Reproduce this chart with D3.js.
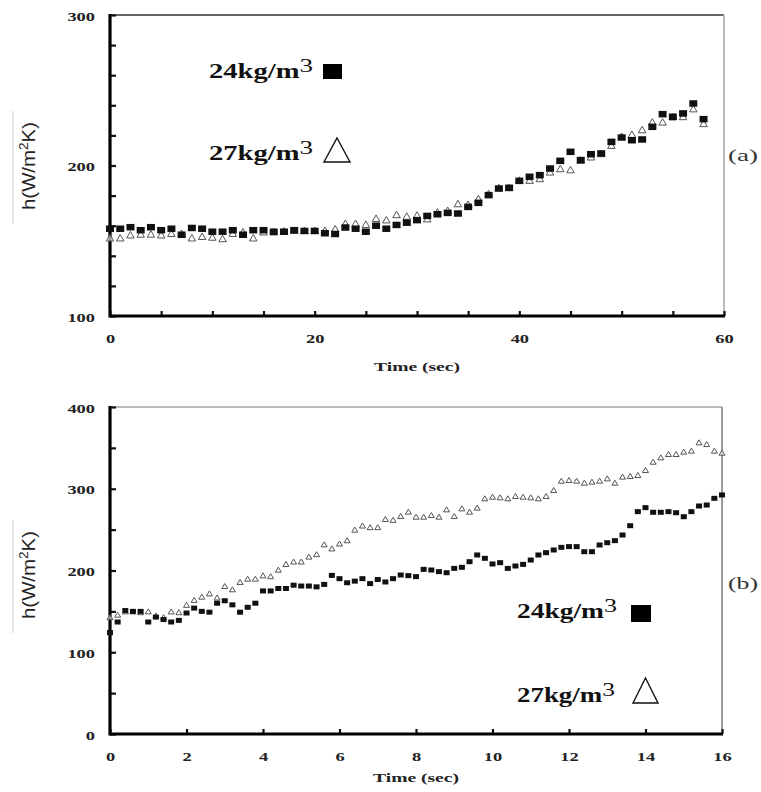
<!DOCTYPE html>
<html>
<head>
<meta charset="utf-8">
<script src="https://cdn.jsdelivr.net/npm/d3@7"></script>
<style>
  html, body { margin: 0; padding: 0; background: #fff; }
  svg { display: block; }
</style>
</head>
<body>
<svg id="chart" width="761" height="792"></svg>
<script>
// ---- Panel (a): heat transfer coefficient over 0–58 s ----
const timeA = [0,1,2,3,4,5,6,7,8,9,10,11,12,13,14,15,16,17,18,19,20,21,22,23,24,25,26,27,28,29,
  30,31,32,33,34,35,36,37,38,39,40,41,42,43,44,45,46,47,48,49,50,51,52,53,54,55,56,57,58];
const h24A = [158,158,159,157,159,157,158,154,158.5,158,156,156,157,154,157,157,156,156,157,156.5,
  156.5,155,154.5,158.8,158,156,160,158,160.5,162,163.7,166.5,167.6,168.5,168.1,172.5,175.2,180.3,184.7,185.2,
  189.8,192.5,193.6,198,203.1,209.1,203.6,207.5,208,215.7,218.6,216.8,217.3,225.7,234.1,232.4,234.6,241.2,230.8];
const h27A = [152,152,154,154.5,154.5,154,155,155,152,153,152.5,151.5,155,156,152,156,156,156.5,157,157,
  157,157,158,161.6,161.6,161,165,164,167.5,166.4,167.1,164.7,169.2,170.3,174.7,174.3,178.1,181.4,185.4,185.4,
  190.3,190.3,191.4,195.8,198,197.3,203.6,205.8,208,213.5,219.5,220.8,223.9,229,229,232.4,232.6,237.8,228];

// ---- Panel (b): heat transfer coefficient over 0–16 s ----
const timeB = [0,0.2,0.4,0.6,0.8,1,1.2,1.4,1.6,1.8,2,2.2,2.4,2.6,2.8,3,3.2,3.4,3.6,3.8,
  4,4.2,4.4,4.6,4.8,5,5.2,5.4,5.6,5.8,6,6.2,6.4,6.6,6.8,7,7.2,7.4,7.6,7.8,
  8,8.2,8.4,8.6,8.8,9,9.2,9.4,9.6,9.8,10,10.2,10.4,10.6,10.8,11,11.2,11.4,11.6,11.8,
  12,12.2,12.4,12.6,12.8,13,13.2,13.4,13.6,13.8,14,14.2,14.4,14.6,14.8,15,15.2,15.4,15.6,15.8,16];
const h24B = [124,137,151,150,150,137,143,140,137,139,148,154,150,149,160,163,158,149,155,160,
  175,175,178,178,182,181,181,180,183,194,190,185,187,190,184,189,186,190,194.5,193.7,
  192.5,201.4,200.6,198.6,197.3,202.6,203.9,210.8,219,214.9,208,209.6,202.6,205.5,207.5,212.8,219,221.8,225.1,228.3,
  229.2,229.2,223,223,231.2,234,236.5,243.4,254.8,272,276.9,271.2,271.2,272,270.7,265.8,272,278.9,280.1,288.3,292.4];
const h27B = [143,146,150,150,149,150,145,143,150,149,158,164,168,172,167,181,177,186,190,190,
  194,193,201,208,211,211,217,220,232,227,233,237,250,255,253,253,263,262,266.7,272,
  265.8,265.8,267.9,265.8,274.8,266.7,276,272,276.9,288.3,290.3,289.5,288.3,291.1,290.3,289.5,288.3,291.1,298.5,309.9,
  310.7,309.9,307.4,308.7,309.9,312.7,307.4,314.8,315.6,316.8,322.9,333.1,338.4,342.5,342.5,345.4,346.6,356.8,354.7,346.6,344.1];

// ---- Tick values and labels ----
const xMinorA = [0,5,10,15,20,25,30,35,40,45,50,55,60];
const xLabelsA = [0,20,40,60];
const yMinorA = [100,120,140,160,180,200,220,240,260,280,300];
const yLabelsA = [100,200,300];
const xLabelsB = [0,2,4,6,8,10,12,14,16];
const yMinorB = [0,50,100,150,200,250,300,350,400];
const yLabelsB = [0,100,200,300,400];

const seriesNames = ["24kg/m", "27kg/m"];
const panelNames = ["(a)", "(b)"];
const xTitle = "Time (sec)";

const svg = d3.select("#chart");
const SERIF = "'Liberation Serif', 'Times New Roman', serif";
const SANS = "'Liberation Sans', Arial, sans-serif";

function triPath(w, h) {
  return `M0,${-h/2}L${w/2},${h/2}L${-w/2},${h/2}Z`;
}

function drawPanel(cfg) {
  const g = svg.append("g");
  const x = d3.scaleLinear().domain(cfg.xDomain).range(cfg.xRange);
  const y = d3.scaleLinear().domain(cfg.yDomain).range(cfg.yRange);
  const [x0, x1] = cfg.xRange;
  const [y0, y1] = cfg.yRange;

  // frame: light top/right edges
  g.append("line").attr("x1", x0).attr("x2", x1).attr("y1", y1).attr("y2", y1)
    .attr("stroke", cfg.topColor).attr("stroke-width", 2);
  g.append("line").attr("x1", x1).attr("x2", x1).attr("y1", y1).attr("y2", y0)
    .attr("stroke", cfg.rightColor).attr("stroke-width", cfg.rightWidth);

  // inward tick marks
  const yTicks = g.append("g").attr("transform", `translate(${x0},0)`)
    .call(d3.axisLeft(y).tickValues(cfg.yMinor).tickSize(-6).tickFormat(""));
  yTicks.select(".domain").remove();
  yTicks.selectAll("line").attr("stroke", "#111").attr("stroke-width", 2.2);

  const xTicks = g.append("g").attr("transform", `translate(0,${y0})`)
    .call(d3.axisBottom(x).tickValues(cfg.xMinor).tickSize(-5).tickFormat(""));
  xTicks.select(".domain").remove();
  xTicks.selectAll("line").attr("stroke", "#111").attr("stroke-width", 2.2);

  // tick labels
  const yLab = g.append("g").attr("transform", `translate(${x0},0)`)
    .call(d3.axisLeft(y).tickValues(cfg.yLabels).tickSize(0).tickPadding(15).tickFormat(d3.format("d")));
  yLab.select(".domain").remove();
  yLab.selectAll("text")
    .attr("font-family", SERIF).attr("font-weight", "bold").attr("font-size", 13)
    .attr("fill", "#222")
    .attr("dy", "0.4em")
    .attr("textLength", d => String(d).length * 9.2)
    .attr("lengthAdjust", "spacingAndGlyphs");

  const xLab = g.append("g").attr("transform", `translate(0,${y0})`)
    .call(d3.axisBottom(x).tickValues(cfg.xLabels).tickSize(0).tickPadding(cfg.xPad).tickFormat(d3.format("d")));
  xLab.select(".domain").remove();
  xLab.selectAll("text")
    .attr("font-family", SERIF).attr("font-weight", "bold").attr("font-size", 13)
    .attr("fill", "#222")
    .attr("textLength", d => String(d).length * 9.2)
    .attr("lengthAdjust", "spacingAndGlyphs");

  // main axes (thick black)
  g.append("line").attr("x1", x0).attr("x2", x0).attr("y1", y1 - 1).attr("y2", y0 + 1.5)
    .attr("stroke", "#000").attr("stroke-width", 3.2);
  g.append("line").attr("x1", x0).attr("x2", x1 + 1).attr("y1", y0).attr("y2", y0)
    .attr("stroke", "#000").attr("stroke-width", 2.8);

  // axis titles
  g.append("text")
    .attr("x", (x0 + x1) / 2).attr("y", cfg.xTitleY)
    .attr("text-anchor", "middle")
    .attr("font-family", SERIF).attr("font-weight", "bold").attr("font-size", 13)
    .attr("fill", "#222")
    .attr("textLength", 86).attr("lengthAdjust", "spacingAndGlyphs")
    .text(xTitle);

  g.append("line").attr("x1", 13).attr("x2", 13)
    .attr("y1", cfg.yTitleY - 55).attr("y2", cfg.yTitleY + 58)
    .attr("stroke", "#ddd").attr("stroke-width", 1.5);

  const yt = g.append("text")
    .attr("transform", `translate(35,${cfg.yTitleY}) rotate(-90)`)
    .attr("text-anchor", "middle")
    .attr("font-family", SANS).attr("font-size", 18)
    .attr("fill", "#222")
    .attr("textLength", 88).attr("lengthAdjust", "spacingAndGlyphs");
  yt.append("tspan").text("h(W/m");
  yt.append("tspan").attr("font-size", 12).attr("dy", -7).text("2");
  yt.append("tspan").attr("dy", 7).text("K)");

  // data points: triangles first, squares on top
  const pts27 = cfg.time.map((t, i) => [t, cfg.h27[i]]);
  const pts24 = cfg.time.map((t, i) => [t, cfg.h24[i]]);

  g.append("g").selectAll("path").data(pts27).join("path")
    .attr("transform", d => `translate(${x(d[0])},${y(d[1])})`)
    .attr("d", triPath(cfg.triW, cfg.triH))
    .attr("fill", "#fff").attr("fill-opacity", 0.6)
    .attr("stroke", "#555").attr("stroke-width", 1);

  g.append("g").selectAll("rect").data(pts24).join("rect")
    .attr("x", d => x(d[0]) - cfg.sqW / 2)
    .attr("y", d => y(d[1]) - cfg.sqH / 2)
    .attr("width", cfg.sqW).attr("height", cfg.sqH)
    .attr("fill", "#111");

  // legend
  cfg.legend.forEach((L, i) => {
    const t = g.append("text")
      .attr("x", L.tx).attr("y", L.ty)
      .attr("font-family", SERIF).attr("font-size", 20)
      .attr("fill", "#111")
      .attr("textLength", L.tw).attr("lengthAdjust", "spacingAndGlyphs");
    t.append("tspan").attr("font-weight", "bold").text(seriesNames[i]);
    t.append("tspan").attr("font-size", 19).attr("dy", -6).text("3");
    if (i === 0) {
      g.append("rect").attr("x", L.mx).attr("y", L.my).attr("width", L.mw).attr("height", L.mh)
        .attr("fill", "#000");
    } else {
      g.append("path")
        .attr("transform", `translate(${L.mx + L.mw / 2},${L.my + L.mh / 2})`)
        .attr("d", triPath(L.mw, L.mh))
        .attr("fill", "#fff").attr("stroke", "#111").attr("stroke-width", 1.4);
    }
  });

  // panel tag
  g.append("text")
    .attr("x", 728).attr("y", cfg.tagY)
    .attr("font-family", SERIF).attr("font-size", 17)
    .attr("fill", "#333")
    .attr("textLength", 30).attr("lengthAdjust", "spacingAndGlyphs")
    .text(cfg.tag);
}

drawPanel({
  time: timeA, h24: h24A, h27: h27A,
  xDomain: [0, 60], xRange: [110, 724],
  yDomain: [100, 300], yRange: [316, 15],
  xMinor: xMinorA, xLabels: xLabelsA, yMinor: yMinorA, yLabels: yLabelsA,
  xPad: 18, xTitleY: 371, yTitleY: 166,
  topColor: "#666", rightColor: "#bbb", rightWidth: 2,
  sqW: 8, sqH: 6.5, triW: 7.5, triH: 6.5,
  tag: panelNames[0], tagY: 161,
  legend: [
    { tx: 209, ty: 78, tw: 104, mx: 323, my: 64, mw: 19, mh: 15 },
    { tx: 209, ty: 160, tw: 104, mx: 324, my: 138, mw: 26, mh: 24 }
  ]
});

drawPanel({
  time: timeB, h24: h24B, h27: h27B,
  xDomain: [0, 16], xRange: [110, 722],
  yDomain: [0, 400], yRange: [734, 407],
  xMinor: xLabelsB, xLabels: xLabelsB, yMinor: yMinorB, yLabels: yLabelsB,
  xPad: 18, xTitleY: 782, yTitleY: 575,
  topColor: "#bbb", rightColor: "#777", rightWidth: 1.5,
  sqW: 6, sqH: 5, triW: 6, triH: 5,
  tag: panelNames[1], tagY: 589,
  legend: [
    { tx: 517, ty: 618, tw: 100, mx: 631, my: 605, mw: 20, mh: 17 },
    { tx: 517, ty: 702, tw: 98, mx: 633, my: 678, mw: 25, mh: 25 }
  ]
});
</script>
</body>
</html>
